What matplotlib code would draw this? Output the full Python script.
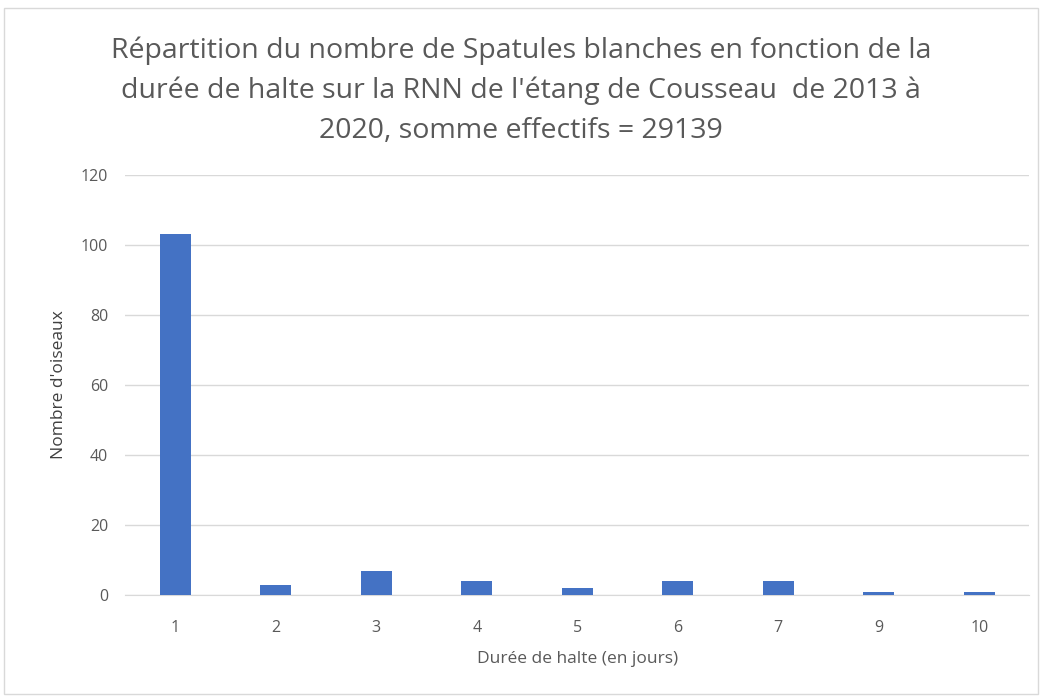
import matplotlib.pyplot as plt
from matplotlib.patches import Rectangle

duree = ["1", "2", "3", "4", "5", "6", "7", "9", "10"]
nombre = [103, 3, 7, 4, 2, 4, 4, 1, 1]

plt.rcParams['font.family'] = ['Open Sans', 'DejaVu Sans']

fig = plt.figure(figsize=(10.42, 6.96), dpi=100)
ax = fig.add_axes([0.12, 0.145, 0.868, 0.604])

x = range(len(duree))
ax.bar(x, nombre, width=0.31, color="#4472C4", zorder=3)

ax.set_xlim(-0.5, len(duree) - 0.5)
ax.set_ylim(0, 120)
ax.set_yticks(range(0, 121, 20))
ax.set_xticks(list(x))
ax.set_xticklabels(duree)
ax.grid(axis="y", color="#D9D9D9", linewidth=1, zorder=0)
for s in ["top", "right", "left"]:
    ax.spines[s].set_visible(False)
ax.spines["bottom"].set_color("#D9D9D9")
ax.tick_params(axis="both", length=0, labelsize=11.5, colors="#595959")
ax.tick_params(axis="x", pad=18)
ax.tick_params(axis="y", pad=12)

ax.set_xlabel("Durée de halte (en jours)", fontsize=12.5, color="#595959", labelpad=11)
ax.set_ylabel("Nombre d'oiseaux", fontsize=12.5, color="#404040", labelpad=10)

fig.text(0.5, 0.87, "Répartition du nombre de Spatules blanches en fonction de la\n"
         "durée de halte sur la RNN de l'étang de Cousseau  de 2013 à\n"
         "2020, somme effectifs = 29139",
         ha="center", va="center", fontsize=20.5, color="#595959", linespacing=1.55)

fig.patches.append(Rectangle((0.004, 0.003), 0.992, 0.985, transform=fig.transFigure,
                             fill=False, edgecolor="#D9D9D9", linewidth=1))

fig.savefig("out.png", dpi=100)
